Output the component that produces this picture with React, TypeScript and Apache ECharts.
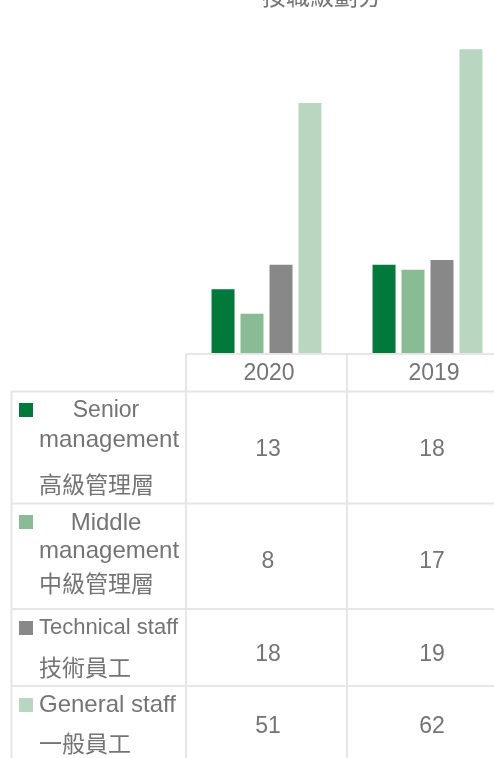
import React, { useEffect, useRef } from "react";
import * as echarts from "echarts";

const titleText = "按職級劃分";
const years = ["2020", "2019"];
const senior = [13, 18];
const middle = [8, 17];
const technical = [18, 19];
const general = [51, 62];
const seriesNames = ["Senior management", "Middle management", "Technical staff", "General staff"];
const colors = ["#00793a", "#89bc94", "#888888", "#b8d6c0"];
const rowLabelLines = [
  ["Senior", "management", "高級管理層"],
  ["Middle", "management", "中級管理層"],
  ["Technical staff", "技術員工"],
  ["General staff", "一般員工"],
];

const TXT = "#747474";
const FONT = "'Liberation Sans', Arial, 'Noto Sans CJK TC', sans-serif";
const CJK = "'Noto Sans CJK TC', 'Liberation Sans', sans-serif";
const LINE = "#e6e6e6";

export default function App() {
  const ref = useRef<HTMLDivElement>(null);
  useEffect(() => {
    if (!ref.current) return;
    const chart = echarts.init(ref.current, null, { renderer: "svg" });
    const allSeries = [senior, middle, technical, general];
    const colX = [268, 432];

    const graphic: any[] = [];
    const hline = (y: number, x1: number, x2: number) =>
      graphic.push({ type: "line", shape: { x1, y1: y, x2, y2: y }, style: { stroke: LINE, lineWidth: 2 }, silent: true });
    const vline = (x: number, y1: number, y2: number) =>
      graphic.push({ type: "line", shape: { x1: x, y1, x2: x, y2 }, style: { stroke: LINE, lineWidth: 2 }, silent: true });
    const text = (t: string, x: number, y: number, align: string, font = FONT, size = 23) =>
      graphic.push({
        type: "text",
        x,
        y,
        style: { text: t, fill: TXT, font: `${size}px ${font}`, textAlign: align, textVerticalAlign: "middle" },
        silent: true,
      });

    // title (cropped at the top, as in the reference)
    graphic.push({
      type: "text",
      x: 322,
      y: 6,
      style: { text: titleText, fill: TXT, font: `24px ${CJK}`, textAlign: "center", textVerticalAlign: "bottom" },
      silent: true,
    });

    // table lines
    hline(354, 186, 510);
    hline(391.5, 11, 510);
    hline(503.5, 11, 510);
    hline(609, 11, 510);
    hline(686, 11, 510);
    vline(11.5, 391, 758);
    vline(186, 353, 758);
    vline(347, 353, 758);

    // header
    text(years[0], 269, 372, "center");
    text(years[1], 434, 372, "center");

    // rows
    const squareY = [403, 515, 621, 698];
    const lineYs = [
      [409, 438, 482.5],
      [521, 549, 582],
      [626.5, 666],
      [703.5, 742],
    ];
    const lineSizes = [
      [23, 24, 23],
      [24, 24, 23],
      [22, 23],
      [24, 23],
    ];
    const valueY = [447.5, 560, 652.5, 725];
    rowLabelLines.forEach((lines, i) => {
      graphic.push({ type: "rect", shape: { x: 19, y: squareY[i], width: 14, height: 14 }, style: { fill: colors[i] }, silent: true });
      lines.forEach((ln, j) => {
        const isCjk = /[\u4e00-\u9fff]/.test(ln);
        if (lines.length === 3 && j === 0) text(ln, 106, lineYs[i][j], "center", FONT, lineSizes[i][j]);
        else text(ln, 39, lineYs[i][j], "left", isCjk ? CJK : FONT, lineSizes[i][j]);
      });
      allSeries[i].forEach((v, k) => text(String(v), colX[k], valueY[i], "center"));
    });

    chart.setOption({
      animation: false,
      grid: { left: 186, right: 0, top: 10, bottom: 405, containLabel: false },
      xAxis: {
        type: "category",
        data: years,
        axisLine: { show: false },
        axisTick: { show: false },
        axisLabel: { show: false },
      },
      yAxis: { type: "value", min: 0, max: 70, show: false, splitLine: { show: false } },
      series: allSeries.map((d, i) => ({
        name: seriesNames[i],
        type: "bar",
        data: d,
        barWidth: 23,
        barGap: "26%",
        itemStyle: { color: colors[i] },
      })),
      graphic,
    });
    return () => chart.dispose();
  }, []);
  return (
    <div style={{ position: "fixed", left: 0, top: 0, width: 494, height: 758, overflow: "hidden" }}>
      <div ref={ref} style={{ width: 508, height: 758 }} />
    </div>
  );
}
